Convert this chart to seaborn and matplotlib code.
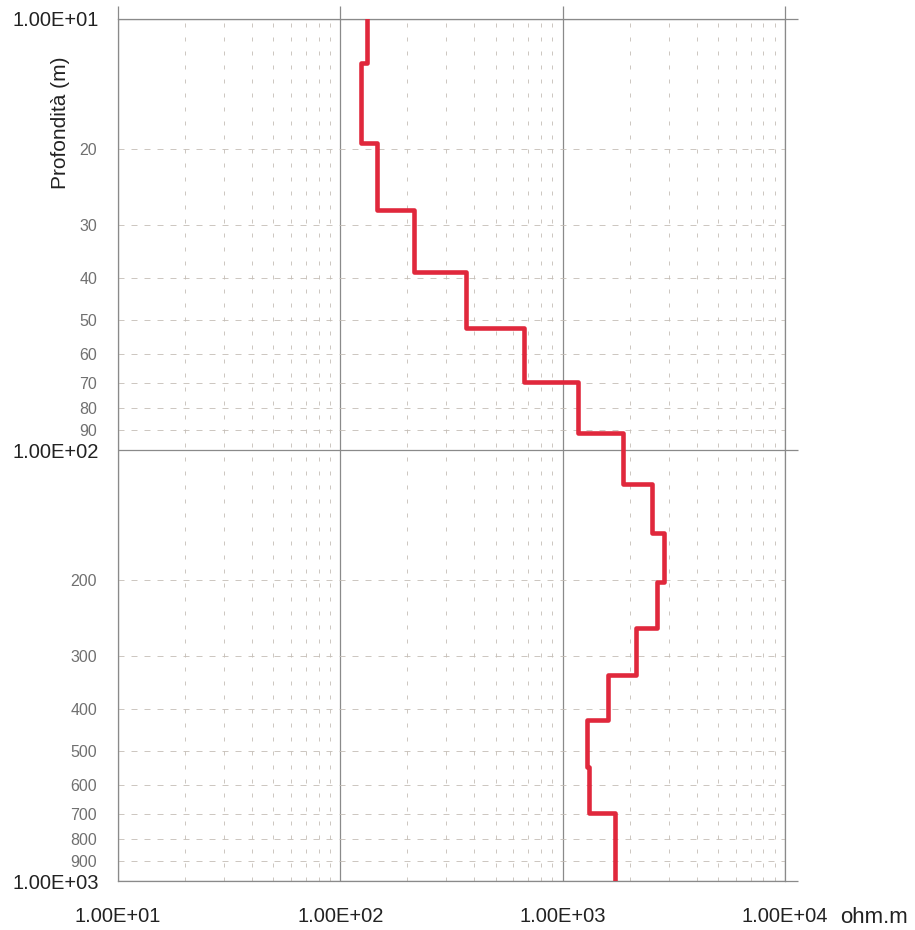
import matplotlib
matplotlib.use("Agg")
import matplotlib.pyplot as plt
import numpy as np
import pandas as pd
import seaborn as sns
from matplotlib.ticker import FixedLocator, FixedFormatter, FuncFormatter, NullFormatter

layer_tops = [10, 12.65, 19.4, 27.7, 38.6, 52.1, 69.5, 91.3, 120, 155.8,
              202.5, 258.8, 332.7, 423, 544, 695]
layer_bottoms = layer_tops[1:] + [1000]
resistivity = [131.5, 123.5, 146, 215, 368, 671, 1171, 1869, 2527, 2858,
               2658, 2139, 1600, 1287, 1314, 1721]

x_major = [10, 100, 1000, 10000]
y_major = [10, 100, 1000]
y_minor = [20, 30, 40, 50, 60, 70, 80, 90, 200, 300, 400, 500, 600, 700, 800, 900]
y_minor_labels = [str(v) for v in y_minor]
x_minor = [m * 10 ** e for e in range(1, 4) for m in range(2, 10)]

# step profile: each layer contributes its top and bottom point
rows = []
for top, bot, rho in zip(layer_tops, layer_bottoms, resistivity):
    rows.append((rho, top))
    rows.append((rho, bot))
df = pd.DataFrame(rows, columns=["rho", "depth"])

sns.set_style("white")
plt.rcParams["font.family"] = ["Liberation Sans", "DejaVu Sans"]

fig = plt.figure(figsize=(9.15, 9.3), dpi=100)
ax = fig.add_axes([118 / 915, 1 - 881 / 930, 667 / 915, 862 / 930])

sns.lineplot(data=df, x="rho", y="depth", sort=False, estimator=None,
             color="#e0283c", linewidth=3.3, ax=ax, zorder=5)

ax.set_xscale("log")
ax.set_yscale("log")
ax.set_xlim(10, 10000)
ax.set_ylim(1000, 10)

ax.xaxis.set_major_locator(FixedLocator(x_major))
ax.yaxis.set_major_locator(FixedLocator(y_major))
ax.xaxis.set_minor_locator(FixedLocator(x_minor))
ax.yaxis.set_minor_locator(FixedLocator(y_minor))
sci = FuncFormatter(lambda v, p: f"{v:.2E}")
ax.xaxis.set_major_formatter(sci)
ax.yaxis.set_major_formatter(sci)
ax.xaxis.set_minor_formatter(NullFormatter())
ax.yaxis.set_minor_formatter(FixedFormatter(y_minor_labels))

ax.grid(which="major", color="#8a8a8a", linewidth=0.9, linestyle="-")
ax.xaxis.grid(which="minor", color="#c4bdb5", linewidth=0.6, linestyle=(0, (4.8, 12)))
ax.yaxis.grid(which="minor", color="#c4bdb5", linewidth=0.6, linestyle=(0, (7.2, 8.4)))

for sp in ax.spines.values():
    sp.set_color("#8a8a8a")
    sp.set_linewidth(0.9)

ax.tick_params(which="major", direction="out", length=9.5, width=0.9,
               color="#8a8a8a", top=True, right=True, labelsize=14.5,
               labelcolor="#222222", pad=4)
ax.tick_params(axis="x", which="major", pad=9)
ax.tick_params(which="minor", length=0, labelsize=11.5, labelcolor="#707070", pad=15)

ax.set_xlabel("")
ax.set_ylabel("")
fig.text(60 / 915, 1 - 123 / 930, "Profondità (m)", rotation=90,
         ha="center", va="center", fontsize=15, color="#222222")
fig.text(840 / 915, 1 - 917 / 930, "ohm.m", ha="left", va="center",
         fontsize=16, color="#222222")

fig.savefig("out.png", dpi=100)
